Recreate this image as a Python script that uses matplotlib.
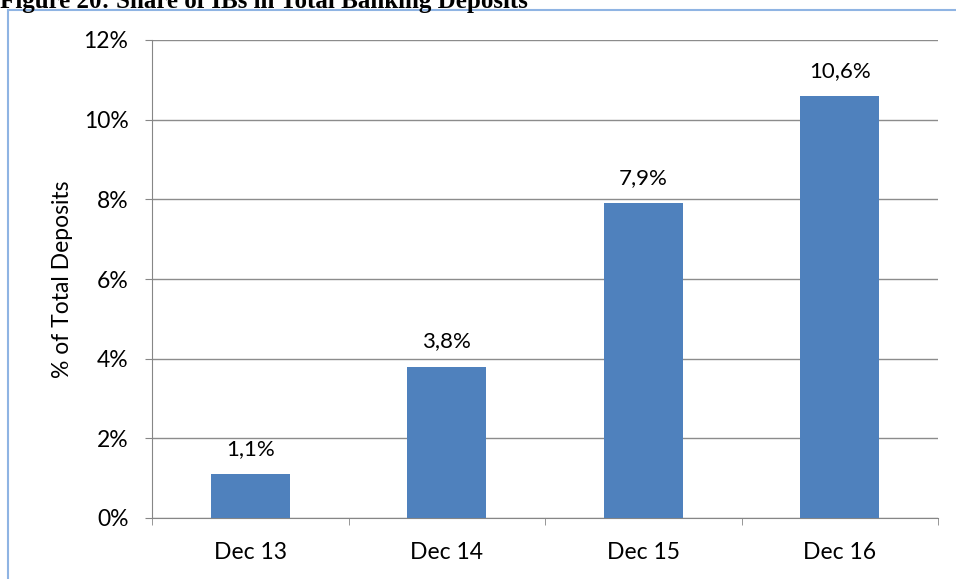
import matplotlib.pyplot as plt
from matplotlib.patches import Rectangle

periodos = ["Dec 13", "Dec 14", "Dec 15", "Dec 16"]
participacao = [1.1, 3.8, 7.9, 10.6]  # % dos depositos totais
rotulos = ["1,1%", "3,8%", "7,9%", "10,6%"]
ticks_y = [0, 2, 4, 6, 8, 10, 12]

plt.rcParams["font.family"] = ["Lato", "DejaVu Sans"]

fig = plt.figure(figsize=(9.56, 5.79), dpi=100)

# titulo cortado no topo e moldura azul clara
fig.text(0.0, 1 - 8 / 579, "Figure 20: Share of IBs in Total Banking Deposits",
         family="Liberation Serif", weight="bold", fontsize=18, va="baseline", ha="left")
fig.patches.append(Rectangle((8 / 956, -0.05), 1.2, 1 - 10 / 579 + 0.05,
                             transform=fig.transFigure, fill=False,
                             edgecolor="#8fb4e3", linewidth=1.5))

ax = fig.add_axes([152 / 956, 1 - 518 / 579, (938 - 152) / 956, (518 - 40) / 579])
x = range(len(periodos))
ax.bar(x, participacao, width=0.4, color="#4f81bd", zorder=3)

for i, v in enumerate(participacao):
    ax.text(i, v + 0.63, rotulos[i], ha="center", va="center", fontsize=16)

ax.set_xlim(-0.5, len(periodos) - 0.5)
ax.set_ylim(0, 12)
ax.set_yticks(ticks_y)
ax.set_yticklabels([f"{t}%" for t in ticks_y], fontsize=16.5)
ax.set_xticks(list(x))
ax.set_xticklabels(periodos, fontsize=16.5)
ax.set_xticks([i - 0.5 for i in range(len(periodos) + 1)], minor=True)
ax.tick_params(axis="x", which="major", length=0, pad=17)
ax.tick_params(axis="x", which="minor", length=5, color="#868686", direction="out")
ax.tick_params(axis="y", length=5, color="#868686", direction="out", pad=12)
ax.grid(axis="y", color="#8c8c8c", linewidth=1, zorder=0)

for lado in ["top", "right"]:
    ax.spines[lado].set_visible(False)
ax.spines["left"].set_color("#868686")
ax.spines["bottom"].set_color("#868686")

ax.set_ylabel("% of Total Deposits", fontsize=16.5)
ax.yaxis.set_label_coords(-0.10, 0.5)

plt.savefig("out.png", dpi=100)
